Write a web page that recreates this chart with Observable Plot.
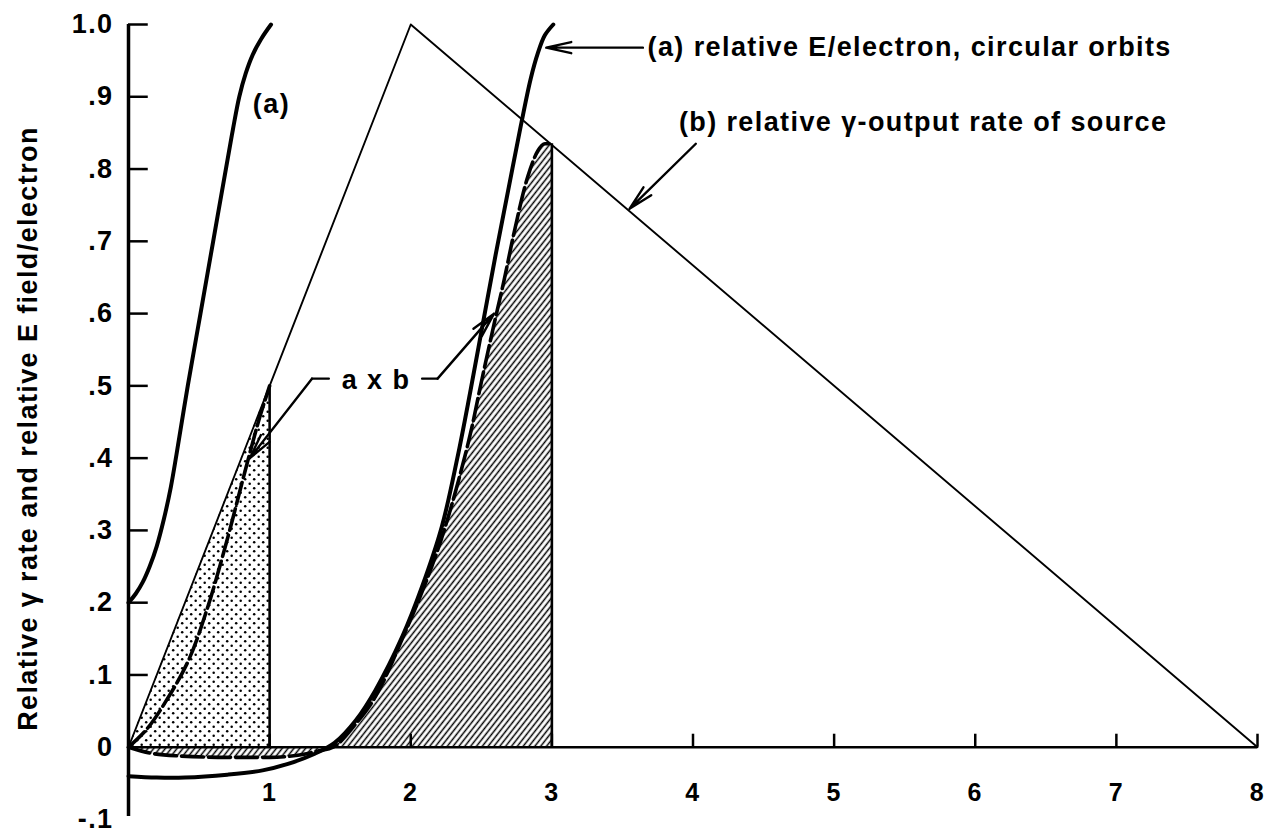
<!DOCTYPE html>
<html>
<head>
<meta charset="utf-8">
<script src="https://cdn.jsdelivr.net/npm/d3@7"></script>
<script src="https://cdn.jsdelivr.net/npm/@observablehq/plot@0.6"></script>
<style>
  html, body { margin: 0; padding: 0; background: #fff; }
  #chart svg text { letter-spacing: 1.4px; }
</style>
</head>
<body>
<div id="chart"></div>
<script>
// ---------- data ----------
// (a) relative E/electron, left curve
const aLeftX = [0, 0.05, 0.10, 0.15, 0.20, 0.25, 0.30, 0.34, 0.42, 0.51, 0.60, 0.69, 0.74, 0.785, 0.83, 0.88, 0.94, 1.01];
const aLeftY = [0.20, 0.212, 0.228, 0.25, 0.278, 0.315, 0.36, 0.405, 0.50, 0.60, 0.70, 0.80, 0.855, 0.90, 0.932, 0.958, 0.98, 1.0];

// (a) relative E/electron, right curve (circular orbits)
const aRightX = [0, 0.2, 0.4, 0.7, 0.95, 1.13, 1.32, 1.46, 1.61, 1.75, 1.94, 2.08, 2.22, 2.33, 2.42, 2.51, 2.60, 2.69, 2.78, 2.85, 2.90, 2.95, 3.01];
const aRightY = [-0.040, -0.042, -0.042, -0.038, -0.032, -0.023, -0.009, 0.006, 0.037, 0.079, 0.153, 0.222, 0.305, 0.40, 0.49, 0.585, 0.68, 0.77, 0.86, 0.925, 0.96, 0.985, 1.0];

// (b) relative gamma-output rate of source (triangle)
const bX = [0, 2, 8];
const bY = [0, 1, 0];

// a x b, left product curve
const abLeftX = [0, 0.13, 0.26, 0.425, 0.555, 0.685, 0.83, 0.92, 1.0];
const abLeftY = [0, 0.025, 0.062, 0.12, 0.19, 0.277, 0.385, 0.45, 0.5];

// a x b, right product curve (incl. negative part)
const abRightX = [0, 0.15, 0.35, 0.7, 1.0, 1.2, 1.35, 1.45, 1.6, 1.75, 1.94, 2.08, 2.22, 2.34, 2.43, 2.5, 2.59, 2.66, 2.73, 2.83, 2.9, 2.95, 3.0];
const abRightY = [0, -0.008, -0.012, -0.014, -0.014, -0.011, -0.005, 0, 0.03, 0.07, 0.15, 0.215, 0.29, 0.37, 0.44, 0.505, 0.585, 0.645, 0.71, 0.79, 0.825, 0.835, 0.835];

// stippled region under (b) from 0 to 1
const stippleX = [0, 1];
const stippleY = [0, 0.5];

// boundary verticals
const vertX = [1, 3];
const vertTop = [0.5, 0.835];

// axes
const xTicks = [1, 2, 3, 4, 5, 6, 7, 8];
const xTickLabels = ["1", "2", "3", "4", "5", "6", "7", "8"];
const yTicks = [-0.1, 0, 0.1, 0.2, 0.3, 0.4, 0.5, 0.6, 0.7, 0.8, 0.9, 1.0];
const yTickLabels = ["-.1", "0", ".1", ".2", ".3", ".4", ".5", ".6", ".7", ".8", ".9", "1.0"];
const yLabel = "Relative \u03b3 rate and relative E field/electron";

// annotations (data coordinates)
const notes = [
  {x: 1.013, y: 0.89, text: "(a)", anchor: "middle"},
  {x: 3.678, y: 0.968, text: "(a) relative E/electron, circular orbits", anchor: "start"},
  {x: 3.90, y: 0.865, text: "(b) relative \u03b3-output rate of source", anchor: "start"},
  {x: 1.754, y: 0.508, text: "a x b", anchor: "middle"}
];
const leaderLines = [
  [{x: 1.42, y: 0.51}, {x: 1.30, y: 0.51}],
  [{x: 2.08, y: 0.51}, {x: 2.19, y: 0.51}]
];
const arrows = [
  {x1: 1.30, y1: 0.51, x2: 0.86, y2: 0.40},
  {x1: 2.19, y1: 0.51, x2: 2.59, y2: 0.60},
  {x1: 3.645, y1: 0.968, x2: 2.96, y2: 0.968},
  {x1: 4.02, y1: 0.835, x2: 3.55, y2: 0.745}
];

// ---------- build ----------
const pts = (xs, ys) => xs.map((x, i) => ({x, y: ys[i]}));
const aLeft = pts(aLeftX, aLeftY);
const aRight = pts(aRightX, aRightY);
const bTri = pts(bX, bY);
const abLeft = pts(abLeftX, abLeftY);
const abRight = pts(abRightX, abRightY);
const stipple = pts(stippleX, stippleY);
const verts = vertX.map((x, i) => ({x, top: vertTop[i]}));
const yT = yTicks.map((v, i) => ({v, label: yTickLabels[i]}));
const xT = xTicks.map((v, i) => ({v, label: xTickLabels[i]}));

const FONT = "'Liberation Sans', Arial, sans-serif";

const chart = Plot.plot({
  width: 1272,
  height: 835,
  marginLeft: 128,
  marginRight: 15,
  marginTop: 24,
  marginBottom: 16,
  x: {domain: [0, 8], axis: null},
  y: {domain: [-0.1, 1.0], axis: null},
  style: {fontFamily: FONT, background: "white", color: "black"},
  marks: [
    // filled regions
    Plot.areaY(stipple, {x: "x", y: "y", fill: "url(#stipple)"}),
    Plot.areaY(abRight, {x: "x", y: "y", fill: "url(#hatch)", curve: "monotone-x"}),
    // triangle (b)
    Plot.line(bTri, {x: "x", y: "y", stroke: "black", strokeWidth: 1.9}),
    // verticals at 1 and 3
    Plot.ruleX(verts, {x: "x", y1: 0, y2: "top", stroke: "black", strokeWidth: 2.6}),
    // axes
    Plot.ruleY([0], {x1: 0, x2: 8, stroke: "black", strokeWidth: 2.6}),
    Plot.ruleX([0], {y1: -0.096, y2: 1.0, stroke: "black", strokeWidth: 3.5}),
    Plot.ruleY(yT.filter(d => d.v > 0), {y: "v", x1: 0, x2: 0.14, stroke: "black", strokeWidth: 2.5}),
    Plot.ruleX(xT, {x: "v", y1: 0, y2: 0.018, stroke: "black", strokeWidth: 2.5}),
    Plot.text(yT, {x: 0, y: "v", text: "label", dx: -15, textAnchor: "end", fontSize: 27, fontWeight: "bold"}),
    Plot.text(xT, {x: "v", y: 0, text: "label", dy: 46, fontSize: 25, fontWeight: "bold"}),
    Plot.text([yLabel], {frameAnchor: "left", textAnchor: "middle", rotate: -90, dx: -100, dy: 6.5, fontSize: 27, fontWeight: "bold"}),
    // curves (a)
    Plot.line(aLeft, {x: "x", y: "y", stroke: "black", strokeWidth: 4, curve: "catmull-rom"}),
    Plot.line(aRight, {x: "x", y: "y", stroke: "black", strokeWidth: 4, curve: "catmull-rom"}),
    // a x b dashed
    Plot.line(abLeft, {x: "x", y: "y", stroke: "black", strokeWidth: 3.6, strokeDasharray: "22,5", curve: "catmull-rom"}),
    Plot.line(abRight, {x: "x", y: "y", stroke: "black", strokeWidth: 3.6, strokeDasharray: "22,5", curve: "monotone-x"}),
    // leaders and arrows
    ...leaderLines.map(seg => Plot.line(seg, {x: "x", y: "y", stroke: "black", strokeWidth: 2.2})),
    Plot.arrow(arrows, {x1: "x1", y1: "y1", x2: "x2", y2: "y2", stroke: "black", strokeWidth: 2.4, headLength: 16, headAngle: 25}),
    // annotation text
    Plot.text(notes.filter(d => d.anchor === "start"), {x: "x", y: "y", text: "text", textAnchor: "start", fontSize: 27, fontWeight: "bold"}),
    Plot.text(notes.filter(d => d.anchor === "middle"), {x: "x", y: "y", text: "text", textAnchor: "middle", fontSize: 27, fontWeight: "bold"})
  ]
});

// patterns for hatch and stipple
const defs = d3.select(chart).insert("defs", ":first-child");
const hatch = defs.append("pattern")
  .attr("id", "hatch").attr("patternUnits", "userSpaceOnUse")
  .attr("width", 4.6).attr("height", 10)
  .attr("patternTransform", "rotate(38)");
hatch.append("line").attr("x1", 2.3).attr("y1", 0).attr("x2", 2.3).attr("y2", 10)
  .attr("stroke", "black").attr("stroke-width", 1.5);
const st = defs.append("pattern")
  .attr("id", "stipple").attr("patternUnits", "userSpaceOnUse")
  .attr("width", 9).attr("height", 9);
st.append("circle").attr("cx", 2.2).attr("cy", 2.2).attr("r", 1.25).attr("fill", "black");
st.append("circle").attr("cx", 6.7).attr("cy", 6.7).attr("r", 1.25).attr("fill", "black");

document.getElementById("chart").appendChild(chart);
</script>
</body>
</html>
